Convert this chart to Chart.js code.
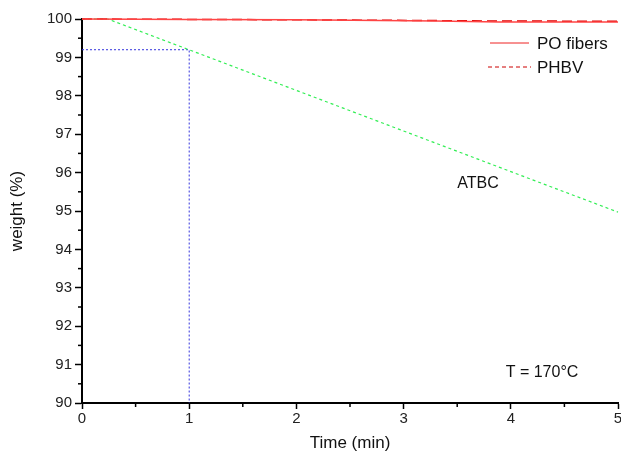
<!DOCTYPE html>
<html>
<head>
<meta charset="utf-8">
<script src="https://cdn.jsdelivr.net/npm/chart.js@4"></script>
<style>
  html, body { margin: 0; padding: 0; background: #fff; }
  #wrap { width: 621px; height: 456px; }
</style>
</head>
<body>
<div id="wrap"><canvas id="chart" width="621" height="456"></canvas></div>
<script>
// Time (min) and weight (%)
const poTime = [0, 1, 2, 3.3, 3.9, 5];
const poWeight = [100, 99.99, 99.98, 99.95, 99.92, 99.92];
const phbvTime = [0, 1, 2, 2.6, 3.8, 5];
const phbvWeight = [100, 99.99, 99.98, 99.97, 99.95, 99.94];
const atbcTime = [0, 0.24, 5];
const atbcWeight = [100, 100, 94.97];
// dotted guide at 1 min
const guideTime = [0, 1, 1];
const guideWeight = [99.2, 99.2, 90];

const seriesLabels = ['PO fibers', 'PHBV', 'ATBC'];
const FONT = '"Liberation Sans", Arial, sans-serif';

function pts(xs, ys) {
  return xs.map((x, i) => ({ x: x, y: ys[i] }));
}

// minor ticks, legend and text labels
const extras = {
  id: 'extras',
  afterDraw(chart) {
    const ctx = chart.ctx;
    const xs = chart.scales.x, ys = chart.scales.y;
    ctx.save();
    ctx.strokeStyle = '#000';
    ctx.lineWidth = 1.5;
    // minor ticks
    for (let v = 90.5; v < 100; v += 1) {
      const py = ys.getPixelForValue(v);
      ctx.beginPath();
      ctx.moveTo(xs.left - 4, py);
      ctx.lineTo(xs.left, py);
      ctx.stroke();
    }
    for (let v = 0.5; v < 5; v += 1) {
      const px = xs.getPixelForValue(v);
      ctx.beginPath();
      ctx.moveTo(px, ys.bottom);
      ctx.lineTo(px, ys.bottom + 4);
      ctx.stroke();
    }

    // legend
    ctx.fillStyle = '#111';
    ctx.font = '17px ' + FONT;
    ctx.textBaseline = 'middle';
    ctx.textAlign = 'left';
    ctx.lineWidth = 1;
    ctx.strokeStyle = '#ee2222';
    ctx.beginPath();
    ctx.moveTo(490, 43);
    ctx.lineTo(529, 43);
    ctx.stroke();
    ctx.fillText(seriesLabels[0], 537, 44);
    ctx.strokeStyle = '#cc0000';
    ctx.setLineDash([4, 3]);
    ctx.beginPath();
    ctx.moveTo(488, 67);
    ctx.lineTo(531, 67);
    ctx.stroke();
    ctx.setLineDash([]);
    ctx.fillText(seriesLabels[1], 537, 68);

    // labels
    ctx.font = '16px ' + FONT;
    ctx.textAlign = 'center';
    ctx.fillText(seriesLabels[2], 478, 184);
    ctx.fillText('T = 170°C', 542, 373);
    ctx.restore();
  }
};

new Chart(document.getElementById('chart'), {
  type: 'line',
  data: {
    datasets: [
      {
        label: seriesLabels[0],
        data: pts(poTime, poWeight),
        borderColor: '#ff4444',
        borderWidth: 1.5,
        pointRadius: 0,
        clip: false,
      },
      {
        label: seriesLabels[1],
        data: pts(phbvTime, phbvWeight),
        borderColor: '#dd0000',
        borderWidth: 1.5,
        borderDash: [10, 5],
        pointRadius: 0,
        clip: false,
      },
      {
        label: seriesLabels[2],
        data: pts(atbcTime, atbcWeight),
        borderColor: '#33ee55',
        borderWidth: 1.2,
        borderDash: [3, 3],
        pointRadius: 0,
        clip: false,
      },
      {
        label: 'guide',
        data: pts(guideTime, guideWeight),
        borderColor: '#3333dd',
        borderWidth: 1,
        borderDash: [2, 2],
        pointRadius: 0,
        clip: false,
      },
    ]
  },
  options: {
    animation: false,
    responsive: false,
    layout: {
      padding: { left: 0, right: 3, top: 19, bottom: 0 }
    },
    plugins: {
      legend: { display: false },
      tooltip: { enabled: false },
    },
    scales: {
      x: {
        type: 'linear',
        min: 0,
        max: 5,
        afterFit: (scale) => { scale.height = 53; scale.paddingRight = 0; },
        ticks: {
          stepSize: 1,
          color: '#222',
          font: { family: FONT, size: 15 },
          padding: 1,
          maxRotation: 0,
        },
        grid: {
          drawOnChartArea: false,
          drawTicks: true,
          tickLength: 6,
          tickWidth: 1.5,
          tickColor: '#000',
        },
        border: { display: true, color: '#000', width: 2 },
        title: {
          display: true,
          text: 'Time (min)',
          color: '#111',
          font: { family: FONT, size: 17 },
          padding: { top: 0, bottom: 2 },
        },
      },
      y: {
        min: 90,
        max: 100,
        afterFit: (scale) => { scale.width = 82; },
        ticks: {
          stepSize: 1,
          color: '#222',
          font: { family: FONT, size: 15 },
          padding: 3,
        },
        grid: {
          drawOnChartArea: false,
          drawTicks: true,
          tickLength: 7,
          tickWidth: 1.5,
          tickColor: '#000',
        },
        border: { display: true, color: '#000', width: 2 },
        title: {
          display: true,
          text: 'weight (%)',
          color: '#111',
          font: { family: FONT, size: 17 },
          padding: { top: 7, bottom: 0 },
        },
      }
    }
  },
  plugins: [extras]
});
</script>
</body>
</html>
